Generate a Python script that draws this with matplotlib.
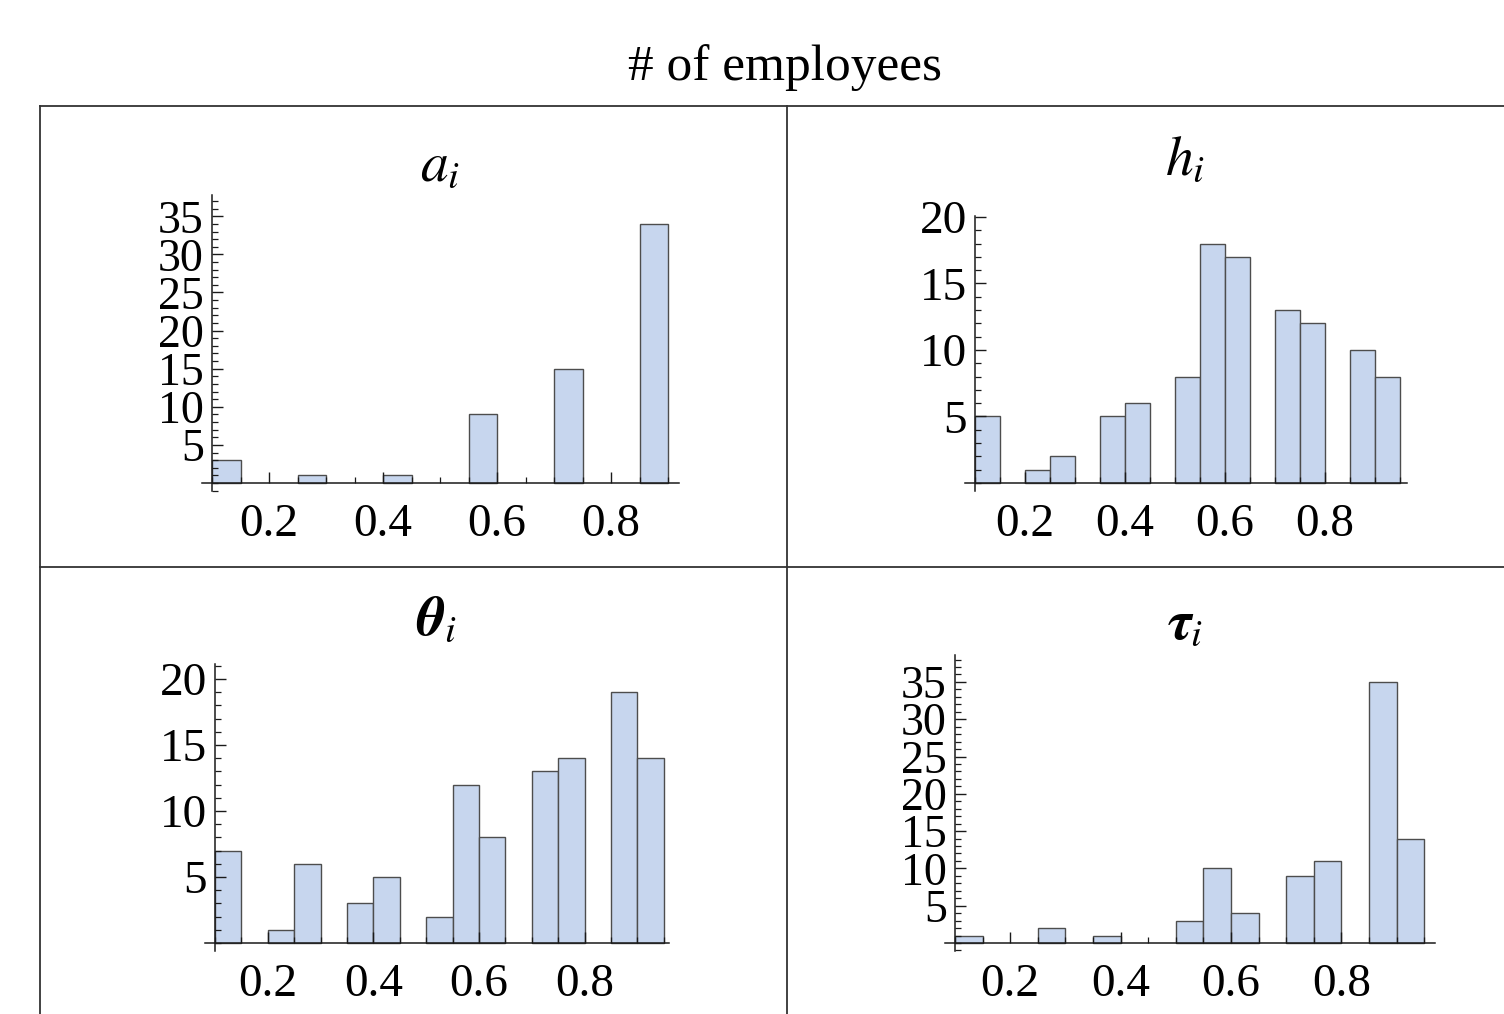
import numpy as np
import matplotlib
matplotlib.use('Agg')
import matplotlib.pyplot as plt
from matplotlib.lines import Line2D
from matplotlib.ticker import MultipleLocator

plt.rcParams['font.family'] = ['Liberation Serif', 'DejaVu Serif']
plt.rcParams['mathtext.fontset'] = 'stix'

W, H = 1504, 1014

# histogram bins (left edges, width 0.05)
bin_left = [0.10, 0.15, 0.20, 0.25, 0.30, 0.35, 0.40, 0.45, 0.50,
            0.55, 0.60, 0.65, 0.70, 0.75, 0.80, 0.85, 0.90]
bin_width = 0.05

a_counts     = [3, 0, 0, 1, 0, 0, 1, 0, 0, 9, 0, 0, 15, 0, 0, 34, 0]
h_counts     = [5, 0, 1, 2, 0, 5, 6, 0, 8, 18, 17, 0, 13, 12, 0, 10, 8]
theta_counts = [7, 0, 1, 6, 0, 3, 5, 0, 2, 12, 8, 0, 13, 14, 0, 19, 14]
tau_counts   = [1, 0, 0, 2, 0, 1, 0, 0, 3, 10, 4, 0, 9, 11, 0, 35, 14]

x_ticks = [0.2, 0.4, 0.6, 0.8]
x_ticklabels = ['0.2', '0.4', '0.6', '0.8']

titles = [r'$a_i$', r'$h_i$', r'$\mathbfit{\theta}_i$', r'$\mathbfit{\tau}_i$']

BAR_FACE = '#c7d6ee'
BAR_EDGE = '#4d4d4d'
AX_COLOR = '#1a1a1a'


def make_panel(fig, counts, x0, ybase, xmax, px_x, ymax, px_y, ymajor, ylabelsize=34):
    """x0/ybase: pixel position of the axes origin (0.1, 0)."""
    xmin = 0.1
    mx, my = 10, 8
    left_px = x0 - mx
    right_px = x0 + (xmax - xmin) * px_x
    bottom_px = ybase + my
    top_px = ybase - ymax * px_y
    ax = fig.add_axes([left_px / W, 1 - bottom_px / H,
                       (right_px - left_px) / W, (bottom_px - top_px) / H])
    ax.set_xlim(xmin - mx / px_x, xmax)
    ax.set_ylim(-my / px_y, ymax)

    lefts = [b for b, c in zip(bin_left, counts) if c > 0]
    heights = [c for c in counts if c > 0]
    ax.bar(lefts, heights, width=bin_width, align='edge',
           color=BAR_FACE, edgecolor=BAR_EDGE, linewidth=1.0)

    for s in ('top', 'right'):
        ax.spines[s].set_visible(False)
    ax.spines['left'].set_position(('data', xmin))
    ax.spines['bottom'].set_position(('data', 0))
    for s in ('left', 'bottom'):
        ax.spines[s].set_color(AX_COLOR)
        ax.spines[s].set_linewidth(1.1)

    ax.set_xticks(x_ticks)
    ax.set_xticklabels(x_ticklabels)
    ax.xaxis.set_minor_locator(MultipleLocator(0.05))
    ax.yaxis.set_minor_locator(MultipleLocator(1))
    yt = [v for v in range(ymajor, int(ymax) + 1, ymajor)]
    ax.set_yticks(yt)
    ax.set_yticklabels([str(v) for v in yt])

    ax.tick_params(which='both', direction='in', color=AX_COLOR)
    ax.tick_params(which='major', length=8, width=1.0)
    ax.tick_params(which='minor', length=4.5, width=0.9)
    ax.tick_params(axis='x', which='major', pad=15, labelsize=34)
    ax.tick_params(axis='y', which='major', pad=6, labelsize=ylabelsize)
    ax.patch.set_alpha(0)
    return ax


fig = plt.figure(figsize=(W / 100, H / 100), dpi=100)
fig.patch.set_facecolor('white')

make_panel(fig, a_counts, 212, 483, 0.92, 570, 37.8, 7.62, 5, ylabelsize=33)
make_panel(fig, h_counts, 975, 483, 0.964, 500, 20.1, 13.3, 5)
make_panel(fig, theta_counts, 215, 943, 0.96, 528, 21.1, 13.2, 5)
make_panel(fig, tau_counts, 955, 943, 0.97, 552, 38.6, 7.46, 5, ylabelsize=33)

# panel headings
title_pos = [(440, 180), (1185, 175), (437, 635), (1185, 638)]
for t, (px, py) in zip(titles, title_pos):
    fig.text(px / W, 1 - py / H, t, ha='center', va='baseline', fontsize=40)

fig.text(785 / W, 1 - 68 / H, '# of employees', ha='center', va='center',
         fontsize=37)

# table frame around the four panels
frame_kw = dict(transform=fig.transFigure, color='#333333', lw=1.3)
segments = [((40, 1504), (106, 106)),
            ((40, 40), (106, 1014)),
            ((787, 787), (106, 1014)),
            ((40, 1504), (567, 567))]
for (xa, xb), (ya, yb) in segments:
    fig.add_artist(Line2D([xa / W, xb / W], [1 - ya / H, 1 - yb / H], **frame_kw))

fig.savefig('out.png', dpi=100, facecolor='white')
